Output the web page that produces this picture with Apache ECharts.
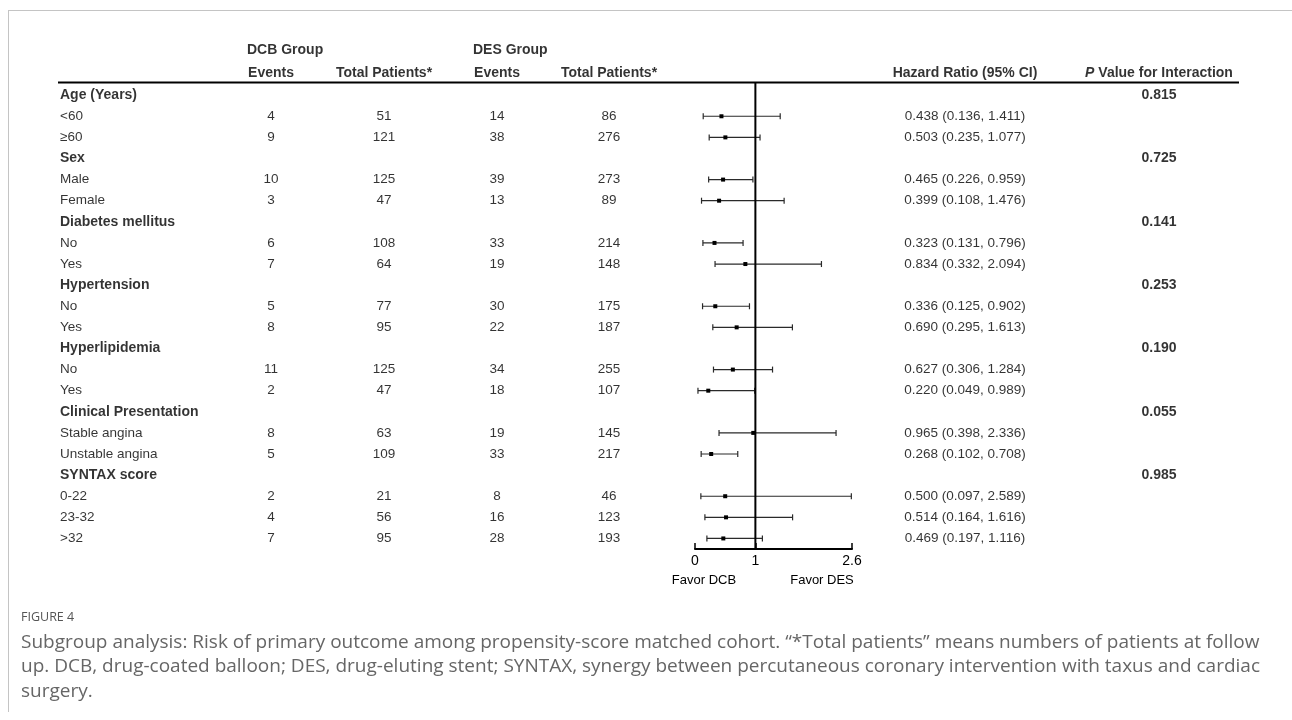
<!DOCTYPE html>
<html><head><meta charset="utf-8">
<script src="https://cdn.jsdelivr.net/npm/echarts@6/dist/echarts.min.js"></script>
<style>html,body{margin:0;padding:0;background:#fff}#c{width:1292px;height:720px}</style>
</head><body><div id="c"></div>
<script>
// ---- data ----
const rowLabels = ['Age (Years)','<60','≥60','Sex','Male','Female','Diabetes mellitus','No','Yes','Hypertension','No','Yes','Hyperlipidemia','No','Yes','Clinical Presentation','Stable angina','Unstable angina','SYNTAX score','0-22','23-32','>32'];
const isGroup   = [1,0,0,1,0,0,1,0,0,1,0,0,1,0,0,1,0,0,1,0,0,0];
const dcbEvents = [null,4,9,null,10,3,null,6,7,null,5,8,null,11,2,null,8,5,null,2,4,7];
const dcbTotal  = [null,51,121,null,125,47,null,108,64,null,77,95,null,125,47,null,63,109,null,21,56,95];
const desEvents = [null,14,38,null,39,13,null,33,19,null,30,22,null,34,18,null,19,33,null,8,16,28];
const desTotal  = [null,86,276,null,273,89,null,214,148,null,175,187,null,255,107,null,145,217,null,46,123,193];
const hr        = [null,0.438,0.503,null,0.465,0.399,null,0.323,0.834,null,0.336,0.690,null,0.627,0.220,null,0.965,0.268,null,0.500,0.514,0.469];
const ciLow     = [null,0.136,0.235,null,0.226,0.108,null,0.131,0.332,null,0.125,0.295,null,0.306,0.049,null,0.398,0.102,null,0.097,0.164,0.197];
const ciHigh    = [null,1.411,1.077,null,0.959,1.476,null,0.796,2.094,null,0.902,1.613,null,1.284,0.989,null,2.336,0.708,null,2.589,1.616,1.116];
const pInteraction = ['0.815',null,null,'0.725',null,null,'0.141',null,null,'0.253',null,null,'0.190',null,null,'0.055',null,null,'0.985',null,null,null];
const axisTicks = [0, 1, 2.6];
const groupHeaders = ['DCB Group','DES Group'];
const colHeaders = ['Events','Total Patients*','Events','Total Patients*','Hazard Ratio (95% CI)'];
const pHeader = '{i|P} Value for Interaction';
const favorLabels = ['Favor DCB','Favor DES'];
const figLabel = 'FIGURE 4';
const captionLines = [
  'Subgroup analysis: Risk of primary outcome among propensity-score matched cohort. \u201c*Total patients\u201d means numbers of patients at follow',
  'up. DCB, drug-coated balloon; DES, drug-eluting stent; SYNTAX, synergy between percutaneous coronary intervention with taxus and cardiac',
  'surgery.'
];

// ---- layout ----
const COL = {label:60, dcbEv:271, dcbTot:384, desEv:497, desTot:609, hr:965, p:1159};
const Y_MIN = -0.6, Y_MAX = 21.5;
const HDR1 = -2.14, HDR2 = -1.05;
const FONT = '"Liberation Sans", Arial, sans-serif';

const baseLabel = {show:true, position:'inside', formatter: p => p.value[2], color:'#000',
  fontFamily:FONT, fontSize:13.5, align:'center', verticalAlign:'middle'};
const boldLabel = Object.assign({}, baseLabel, {fontSize:14, fontWeight:'bold'});

function textSeries(data, label) {
  return {type:'scatter', xAxisIndex:0, yAxisIndex:0, symbolSize:0, clip:false, silent:true,
    data: data, label: label || baseLabel};
}
function colData(x, arr) {
  const out = [];
  arr.forEach((v,i) => { if (v !== null && v !== undefined) out.push([x, i, String(v)]); });
  return out;
}
const labelsNormal = [], labelsBold = [];
rowLabels.forEach((t,i) => (isGroup[i] ? labelsBold : labelsNormal).push([COL.label, i, t]));
const hrText = hr.map((v,i) => v === null ? null : v.toFixed(3)+' ('+ciLow[i].toFixed(3)+', '+ciHigh[i].toFixed(3)+')');
const ciData = [];
hr.forEach((v,i) => { if (v !== null) ciData.push([i, v, ciLow[i], ciHigh[i]]); });

const option = {
  animation:false,
  backgroundColor:'#fff',
  grid:[
    {left:0, right:0, top:82.5, bottom:171},
    {left:695, right:440, top:82.5, bottom:171}
  ],
  xAxis:[
    {gridIndex:0, type:'value', min:0, max:1292, show:false},
    {gridIndex:1, type:'value', min:0, max:2.6, position:'bottom',
      axisLine:{show:true, onZero:false, lineStyle:{color:'#000', width:2}},
      axisTick:{show:true, inside:true, length:6, customValues:axisTicks, lineStyle:{color:'#000', width:1.5}},
      axisLabel:{show:true, customValues:axisTicks, color:'#000', fontFamily:FONT, fontSize:14, margin:5,
        formatter: v => String(v), showMinLabel:true, showMaxLabel:true},
      splitLine:{show:false}}
  ],
  yAxis:[
    {gridIndex:0, type:'value', inverse:true, min:Y_MIN, max:Y_MAX, show:false},
    {gridIndex:1, type:'value', inverse:true, min:Y_MIN, max:Y_MAX, show:false}
  ],
  series:[
    {type:'line', xAxisIndex:0, yAxisIndex:0, clip:false, silent:true, symbol:'none',
      data:[[58,Y_MIN],[1239,Y_MIN]], lineStyle:{color:'#000', width:2}},
    {type:'line', xAxisIndex:1, yAxisIndex:1, clip:false, silent:true, symbol:'none',
      data:[[1,Y_MIN],[1,Y_MAX]], lineStyle:{color:'#000', width:2}},
    {type:'custom', xAxisIndex:1, yAxisIndex:1, clip:false, silent:true,
      encode:{x:[1,2,3], y:0},
      data: ciData,
      renderItem:(params, api) => {
        const row = api.value(0);
        const ph = api.coord([api.value(1), row]);
        const pl = api.coord([api.value(2), row]);
        const pu = api.coord([api.value(3), row]);
        const st = {stroke:'#2a2a2a', lineWidth:1.2};
        const cap = 3;
        return {type:'group', children:[
          {type:'line', shape:{x1:pl[0], y1:pl[1], x2:pu[0], y2:pu[1]}, style:st},
          {type:'line', shape:{x1:pl[0], y1:pl[1]-cap, x2:pl[0], y2:pl[1]+cap}, style:st},
          {type:'line', shape:{x1:pu[0], y1:pu[1]-cap, x2:pu[0], y2:pu[1]+cap}, style:st},
          {type:'rect', shape:{x:ph[0]-2, y:ph[1]-2, width:4, height:4}, style:{fill:'#000'}}
        ]};
      }},
    textSeries(labelsNormal, Object.assign({}, baseLabel, {align:'left'})),
    textSeries(labelsBold, Object.assign({}, boldLabel, {align:'left'})),
    textSeries(colData(COL.dcbEv, dcbEvents)),
    textSeries(colData(COL.dcbTot, dcbTotal)),
    textSeries(colData(COL.desEv, desEvents)),
    textSeries(colData(COL.desTot, desTotal)),
    textSeries(colData(COL.hr, hrText)),
    textSeries(colData(COL.p, pInteraction), boldLabel),
    textSeries([[247, HDR1, groupHeaders[0]], [473, HDR1, groupHeaders[1]]],
      Object.assign({}, boldLabel, {align:'left'})),
    textSeries([[COL.dcbEv, HDR2, colHeaders[0]], [COL.dcbTot, HDR2, colHeaders[1]],
                [COL.desEv, HDR2, colHeaders[2]], [COL.desTot, HDR2, colHeaders[3]],
                [COL.hr, HDR2, colHeaders[4]]], boldLabel),
    textSeries([[COL.p, HDR2, pHeader]], Object.assign({}, boldLabel, {
      rich:{i:{fontFamily:FONT, fontSize:14, fontWeight:'bold', fontStyle:'italic', color:'#000'}}}))
  ],
  graphic:[
    {type:'line', silent:true, shape:{x1:8, y1:10.5, x2:1292, y2:10.5}, style:{stroke:'#c4c4c4', lineWidth:1}},
    {type:'line', silent:true, shape:{x1:8.5, y1:10, x2:8.5, y2:712}, style:{stroke:'#c4c4c4', lineWidth:1}},
    {type:'text', silent:true, x:704, y:580, style:{text:favorLabels[0], fill:'#000', font:'13px '+FONT, align:'center', verticalAlign:'middle'}},
    {type:'text', silent:true, x:822, y:580, style:{text:favorLabels[1], fill:'#000', font:'13px '+FONT, align:'center', verticalAlign:'middle'}},
    {type:'text', silent:true, x:21, y:617, style:{text:figLabel, fill:'#555', font:'12.5px "Open Sans", "Noto Sans", sans-serif', verticalAlign:'middle'}},
    {type:'text', silent:true, x:21, y:630, style:{text:captionLines.join('\n'), fill:'#666',
      font:'19px "Open Sans", "Noto Sans", sans-serif', lineHeight:24.5}}
  ]
};

const chart = echarts.init(document.getElementById('c'), null, {renderer:'canvas'});
chart.setOption(option);
</script>
</body></html>
